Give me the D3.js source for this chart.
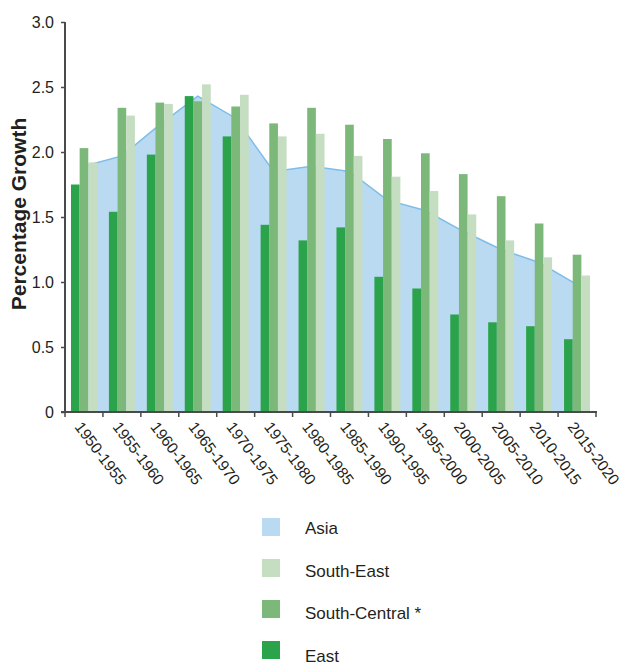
<!DOCTYPE html>
<html>
<head>
<meta charset="utf-8">
<script src="https://cdn.jsdelivr.net/npm/d3@7"></script>
<style>
  html, body { margin: 0; padding: 0; background: #fff; }
  svg { display: block; font-family: "Liberation Sans", Arial, Helvetica, sans-serif; }
</style>
</head>
<body>
<svg id="chart" width="623" height="666"></svg>
<script>
const categories = ["1950-1955","1955-1960","1960-1965","1965-1970","1970-1975","1975-1980","1980-1985","1985-1990","1990-1995","1995-2000","2000-2005","2005-2010","2010-2015","2015-2020"];
const asia = [1.89, 1.97, 2.21, 2.43, 2.26, 1.85, 1.89, 1.85, 1.63, 1.55, 1.39, 1.25, 1.15, 0.98];
const east = [1.75, 1.54, 1.98, 2.43, 2.12, 1.44, 1.32, 1.42, 1.04, 0.95, 0.75, 0.69, 0.66, 0.56];
const southCentral = [2.03, 2.34, 2.38, 2.39, 2.35, 2.22, 2.34, 2.21, 2.10, 1.99, 1.83, 1.66, 1.45, 1.21];
const southEast = [1.92, 2.28, 2.37, 2.52, 2.44, 2.12, 2.14, 1.97, 1.81, 1.70, 1.52, 1.32, 1.19, 1.05];
const yTicks = [0, 0.5, 1.0, 1.5, 2.0, 2.5, 3.0];
const barSeries = ["East", "South-Central *", "South-East"];
const legendLabels = ["Asia", "South-East", "South-Central *", "East"];

const colors = {
  "Asia": "#badaf2",
  "South-East": "#c5ddc1",
  "South-Central *": "#7bb87a",
  "East": "#2ba34b"
};
const asiaLine = "#7dbde9";
const axisColor = "#4a4a4a";
const textColor = "#231f20";

const svg = d3.select("#chart");
const plotLeft = 65, plotRight = 596, plotTop = 22, plotBottom = 412;

const x = d3.scaleBand().domain(categories).range([plotLeft, plotRight]).padding(0);
const y = d3.scaleLinear().domain([0, 3]).range([plotBottom, plotTop]);
const xs = d3.scaleBand().domain(barSeries).range([0, x.bandwidth()]).paddingInner(0).paddingOuter(0.69);

const valuesBySeries = {
  "East": east,
  "South-Central *": southCentral,
  "South-East": southEast
};

// Asia area
const asiaData = categories.map((c, i) => ({c, v: asia[i]}));
const cx = d => x(d.c) + x.bandwidth() / 2;
svg.append("path")
  .datum(asiaData)
  .attr("fill", colors["Asia"])
  .attr("d", d3.area().x(cx).y0(y(0)).y1(d => y(d.v)));
svg.append("path")
  .datum(asiaData)
  .attr("fill", "none")
  .attr("stroke", asiaLine)
  .attr("stroke-width", 1.5)
  .attr("d", d3.line().x(cx).y(d => y(d.v)));

// Bars
const groups = svg.append("g").selectAll("g")
  .data(categories)
  .join("g")
  .attr("transform", c => `translate(${x(c)},0)`);
groups.selectAll("rect")
  .data((c, i) => barSeries.map(s => ({s, v: valuesBySeries[s][i]})))
  .join("rect")
  .attr("x", d => xs(d.s))
  .attr("width", xs.bandwidth())
  .attr("y", d => y(d.v))
  .attr("height", d => y(0) - y(d.v))
  .attr("fill", d => colors[d.s]);

// Y axis
const yAxis = d3.axisLeft(y)
  .tickValues(yTicks)
  .tickSize(4)
  .tickPadding(7)
  .tickFormat(d => d === 0 ? "0" : d3.format(".1f")(d));
const yg = svg.append("g").attr("transform", `translate(${plotLeft},0)`).call(yAxis);
yg.select(".domain").attr("stroke", axisColor).attr("stroke-width", 2).attr("d", `M0,${plotBottom}V${plotTop}`);
yg.selectAll(".tick line").attr("stroke", axisColor).attr("stroke-width", 1.5);
yg.selectAll(".tick text").attr("fill", textColor).style("font-size", "16px").style("font-family", "'Liberation Sans', Arial, sans-serif");

// X axis (line + boundary ticks)
const xg = svg.append("g");
xg.append("line")
  .attr("x1", plotLeft - 4).attr("x2", plotRight + 1)
  .attr("y1", plotBottom).attr("y2", plotBottom)
  .attr("stroke", axisColor).attr("stroke-width", 2);
const boundaries = categories.map(c => x(c)).concat([x.range()[1]]);
xg.selectAll("line.tick")
  .data(boundaries)
  .join("line")
  .attr("class", "tick")
  .attr("x1", d => d).attr("x2", d => d)
  .attr("y1", plotBottom).attr("y2", plotBottom + 5)
  .attr("stroke", axisColor).attr("stroke-width", 1.5);
xg.selectAll("text")
  .data(categories)
  .join("text")
  .attr("transform", c => `translate(${x(c) + x.bandwidth() / 2 - 10},${plotBottom + 15}) rotate(53)`)
  .attr("text-anchor", "start")
  .attr("fill", textColor)
  .style("font-size", "15.5px")
  .text(c => c);

// Y title
svg.append("text")
  .attr("transform", "translate(26,214) rotate(-90)")
  .attr("text-anchor", "middle")
  .attr("fill", textColor)
  .style("font-size", "21px")
  .style("font-weight", "bold")
  .text("Percentage Growth");

// Legend
const lg = svg.append("g");
lg.selectAll("rect")
  .data(legendLabels)
  .join("rect")
  .attr("x", 262)
  .attr("y", (d, i) => 518 + i * 41)
  .attr("width", 18).attr("height", 18)
  .attr("fill", d => colors[d]);
lg.selectAll("text")
  .data(legendLabels)
  .join("text")
  .attr("x", 305)
  .attr("y", (d, i) => 534 + i * 42.7)
  .attr("fill", textColor)
  .style("font-size", "17px")
  .text(d => d);
</script>
</body>
</html>
